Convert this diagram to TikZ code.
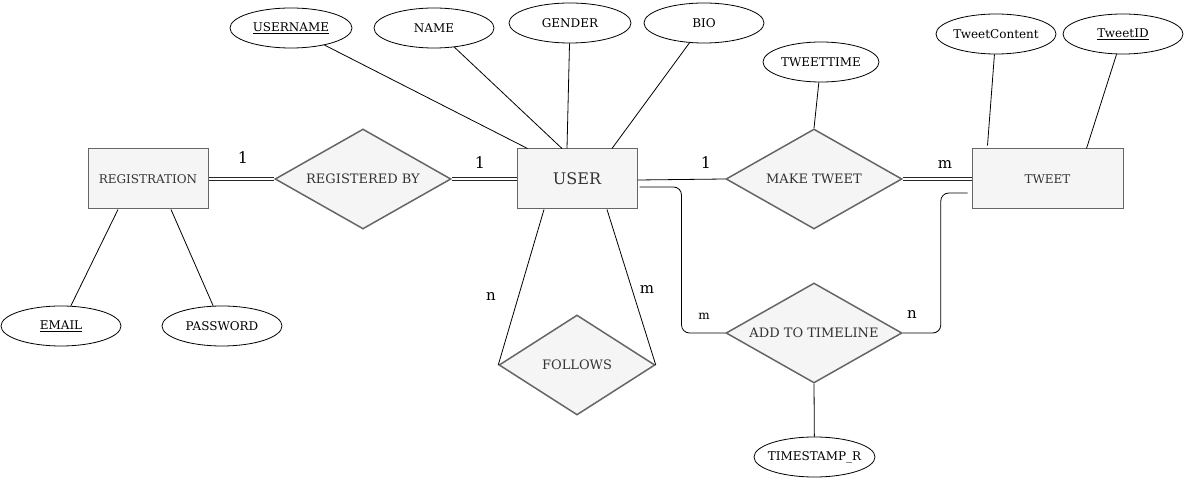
\documentclass[tikz,border=0pt]{standalone}
\usepackage{fontspec}
\setmainfont{DejaVu Serif}
\usepackage{xcolor}
\usetikzlibrary{shapes.geometric}
\definecolor{boxfill}{HTML}{F5F5F5}
\definecolor{boxline}{HTML}{666666}
\definecolor{boxtext}{HTML}{333333}
\begin{document}
\begin{tikzpicture}[x=1pt,y=-1pt,
  entity/.style={draw=boxline,fill=boxfill,text=boxtext,line width=1pt,minimum width=120pt,minimum height=60pt,inner sep=0pt,font=\fontsize{12}{14}\selectfont},
  relation/.style={diamond,shape aspect=1.76,draw=boxline,fill=boxfill,text=boxtext,line width=1.5pt,minimum width=176pt,minimum height=100pt,inner sep=0pt,font=\fontsize{13}{15}\selectfont},
  attrib/.style={ellipse,draw=black,line width=0.8pt,minimum width=120pt,minimum height=40pt,inner ysep=0pt,inner xsep=-12pt,font=\fontsize{12}{14}\selectfont},
  link/.style={draw=black,line width=0.8pt},
  dbl/.style={draw=black!85,line width=0.8pt,double=white,double distance=2.2pt},
  card/.style={inner sep=0pt,font=\fontsize{16}{18}\selectfont}]
\useasboundingbox (0,0) rectangle (1184,478);
\node[entity] (registration) at (148,179) {REGISTRATION};
\node[entity,font=\fontsize{16}{18}\selectfont] (user) at (577,179) {USER};
\node[entity,minimum width=151pt] (tweet) at (1047.5,179) {TWEET};
\node[relation] (registeredby) at (363,179) {REGISTERED BY};
\node[relation] (maketweet) at (814,179) {MAKE TWEET};
\node[relation,minimum width=156pt] (follows) at (577,365) {FOLLOWS};
\node[relation] (addtimeline) at (814,333) {ADD TO TIMELINE};
\node[attrib,minimum width=122pt] (username) at (291,28) {\underline{USERNAME}};
\node[attrib] (name) at (434,28) {NAME};
\node[attrib,minimum width=122pt] (gender) at (570,23) {GENDER};
\node[attrib] (bio) at (704,23) {BIO};
\node[attrib,minimum width=116pt] (tweettime) at (821,62) {TWEETTIME};
\node[attrib] (tweetcontent) at (996,34) {TweetContent};
\node[attrib] (tweetid) at (1123,34) {\underline{TweetID}};
\node[attrib] (email) at (61,326) {\underline{EMAIL}};
\node[attrib] (password) at (222,326) {PASSWORD};
\node[attrib,minimum width=121pt] (timestamp) at (814.5,457) {TIMESTAMP\_R};
\draw[link] (username) -- ([xshift=11pt]user.north west);
\draw[link] (name) -- ([xshift=-15pt]user.north);
\draw[link] (gender) -- ([xshift=-10pt]user.north);
\draw[link] (bio) -- ([xshift=35pt]user.north);
\draw[link] (tweettime) -- (maketweet.north);
\draw[link] (tweetcontent) -- ([xshift=16pt,yshift=3pt]tweet.north west);
\draw[link] (tweetid) -- ([xshift=39pt]tweet.north);
\draw[link] (email) -- ([xshift=-30pt]registration.south);
\draw[link] (password) -- ([xshift=23pt]registration.south);
\draw[link] (addtimeline.south) -- (timestamp);
\draw[dbl] (registration.east) -- (registeredby.west);
\draw[dbl] (registeredby.east) -- (user.west);
\draw[link] ([yshift=-1pt]user.east) -- (maketweet.west);
\draw[dbl] (maketweet.east) -- (tweet.west);
\draw[link] ([xshift=-33pt]user.south) -- (follows.west);
\draw[link] ([xshift=30pt]user.south) -- (follows.east);
\draw[link,rounded corners=8pt] ([xshift=2pt,yshift=-8pt]user.east) -- ++(42,0) |- (addtimeline.west);
\draw[link,rounded corners=8pt] (addtimeline.east) -- ++(38,0) |- ([xshift=-4pt,yshift=-14pt]tweet.west);
\node[card] (c1) at (243,158) {1};
\node[card] (c2) at (480,163) {1};
\node[card] (c3) at (706,163) {1};
\node[card,font=\fontsize{15}{17}\selectfont] (c4) at (945,165) {m};
\node[card,font=\fontsize{15}{17}\selectfont] (c5) at (491,297) {n};
\node[card,font=\fontsize{15}{17}\selectfont] (c6) at (647,290) {m};
\node[card,font=\fontsize{12}{14}\selectfont] (c7) at (704,316) {m};
\node[card,font=\fontsize{15}{17}\selectfont] (c8) at (912,315) {n};
\end{tikzpicture}
\end{document}
